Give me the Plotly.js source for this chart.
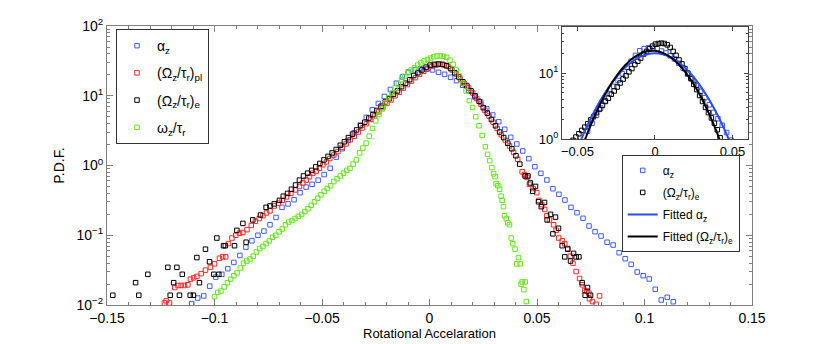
<!DOCTYPE html>
<html>
<head>
<meta charset="utf-8">
<script src="https://cdn.plot.ly/plotly-3.0.1.min.js"></script>
<style>
  html, body { margin: 0; padding: 0; background: #fff; }
  #plot { width: 830px; height: 344px; }
</style>
</head>
<body>
<div id="plot"></div>
<script>
// values; PDF values are kept as log10 (decades) and converted below

// alpha_z (blue)
var alphaX = [-0.1106,-0.1078,-0.105,-0.1022,-0.0994,-0.0966,-0.0938,-0.091,-0.0882,-0.0854,
  -0.0826,-0.0798,-0.077,-0.0742,-0.0714,-0.0686,-0.0658,-0.063,-0.0602,-0.0574,
  -0.0546,-0.0518,-0.049,-0.0462,-0.0434,-0.0406,-0.0378,-0.035,-0.0322,-0.0294,
  -0.0266,-0.0238,-0.021,-0.0182,-0.0154,-0.0126,-0.0098,-0.007,-0.0042,-0.0014,
  0.0014,0.0042,0.007,0.0098,0.0126,0.0154,0.0182,0.021,0.0238,0.0266,
  0.0294,0.0322,0.035,0.0378,0.0406,0.0434,0.0462,0.049,0.0518,0.0546,
  0.0574,0.0602,0.063,0.0658,0.0686,0.0714,0.0742,0.077,0.0798,0.0826,
  0.0854,0.0882,0.091,0.0938,0.0966,0.0994,0.1022,0.105,0.1078,0.1106,0.1134];
var alphaLog = [-1.98,-1.90,-1.87,-1.73,-1.60,-1.56,-1.48,-1.39,-1.29,-1.17,
  -1.08,-1.00,-0.94,-0.85,-0.745,-0.60,-0.55,-0.49,-0.39,-0.31,
  -0.27,-0.21,-0.13,-0.04,0.12,0.24,0.36,0.47,0.58,0.69,
  0.80,0.89,0.99,1.09,1.18,1.27,1.34,1.37,1.385,1.38,
  1.37,1.336,1.307,1.264,1.216,1.15,1.073,0.982,0.91,0.814,
  0.724,0.628,0.519,0.404,0.308,0.208,0.098,-0.017,-0.112,-0.208,
  -0.333,-0.413,-0.495,-0.6,-0.676,-0.757,-0.867,-0.949,-1.011,-1.10,
  -1.14,-1.25,-1.336,-1.417,-1.527,-1.58,-1.627,-1.775,-1.928,-1.89,-1.953];

// (Omega_z/tau_r)_pl (red)
var plX = [-0.1233,-0.1225,-0.1209,-0.1185,-0.117,-0.1155,-0.114,-0.1124,-0.1112,-0.1097,
  -0.1082,-0.1062,-0.1042,-0.1019,-0.1,-0.0977,-0.0962,-0.0948,-0.0935,-0.0919,
  -0.0901,-0.0884,-0.0868,-0.0849,-0.0829,-0.081,-0.0792,-0.0775,-0.0758,-0.0742,
  -0.0722,-0.0703,-0.0685,-0.0665,-0.0645,-0.0625,-0.0605,-0.0589,-0.0573,-0.0558,
  -0.0543,-0.0527,-0.0512,-0.0496,-0.048,-0.0464,-0.0445,-0.0426,-0.0407,-0.0388,
  -0.0369,-0.035,-0.0331,-0.0312,-0.0293,-0.0274,-0.0255,-0.0236,-0.0217,-0.0198,
  -0.0179,-0.016,-0.0141,-0.0122,-0.0103,-0.0084,-0.0065,-0.0046,-0.0027,-0.0008,
  0.0011,0.003,0.0049,0.0068,0.0087,0.0106,0.0125,0.0144,0.0163,0.0182,
  0.0201,0.022,0.0239,0.0258,0.0277,0.0296,0.0315,0.0334,0.0353,0.0372,
  0.0391,0.041,0.0431,0.0442,0.0453,0.0465,0.0482,0.0499,0.0509,0.0522,
  0.0536,0.0546,0.0558,0.0577,0.0589,0.0601,0.0617,0.0629,0.0643,0.0655,
  0.0667,0.0682,0.0698,0.071,0.0722,0.0732,0.0741,0.0744,0.0758,0.0775,0.0791];
var plLog = [-1.97,-1.94,-1.97,-1.75,-1.72,-1.72,-1.72,-1.71,-1.63,-1.61,
  -1.59,-1.55,-1.50,-1.46,-1.41,-1.33,-1.31,-1.31,-1.12,-1.04,
  -1.00,-0.97,-0.96,-0.92,-0.86,-0.80,-0.76,-0.72,-0.68,-0.65,
  -0.58,-0.54,-0.50,-0.45,-0.40,-0.35,-0.30,-0.25,-0.21,-0.16,
  -0.11,-0.08,-0.04,0.01,0.05,0.10,0.15,0.20,0.26,0.31,
  0.37,0.42,0.48,0.54,0.60,0.66,0.71,0.77,0.83,0.89,
  0.94,1.00,1.05,1.11,1.16,1.21,1.26,1.31,1.35,1.39,
  1.42,1.44,1.45,1.44,1.42,1.37,1.31,1.24,1.17,1.11,
  1.04,0.96,0.88,0.79,0.71,0.62,0.53,0.44,0.36,0.28,
  0.19,0.09,-0.09,-0.13,-0.17,-0.27,-0.33,-0.39,-0.50,-0.56,
  -0.63,-0.72,-0.78,-0.85,-0.93,-1.04,-1.08,-1.12,-1.19,-1.30,
  -1.40,-1.52,-1.62,-1.71,-1.79,-1.80,-1.83,-1.91,-1.95,-1.99,-1.87];

// (Omega_z/tau_r)_e (black)
var eX = [-0.1473,-0.1367,-0.1352,-0.131,-0.1217,-0.1206,-0.119,-0.1175,-0.1163,-0.115,
  -0.1113,-0.1098,-0.1082,-0.107,-0.1042,-0.1023,-0.1003,-0.0989,-0.098,-0.0958,
  -0.095,-0.0907,-0.0896,-0.0868,-0.0853,-0.0822,-0.0786,-0.076,-0.0742,-0.0722,
  -0.0698,-0.068,-0.066,-0.0642,-0.0623,-0.0605,-0.0586,-0.0567,-0.0548,-0.0529,
  -0.051,-0.0491,-0.0472,-0.0453,-0.0434,-0.0415,-0.0396,-0.0377,-0.0358,-0.0339,
  -0.032,-0.0301,-0.0282,-0.0263,-0.0244,-0.0225,-0.0206,-0.0187,-0.0168,-0.0149,
  -0.013,-0.0111,-0.0092,-0.0073,-0.0054,-0.0035,-0.0016,0.0003,0.0022,0.0041,
  0.006,0.0079,0.0098,0.0117,0.0136,0.0155,0.0174,0.0193,0.0212,0.0231,
  0.025,0.0269,0.0288,0.0307,0.0326,0.0345,0.0364,0.0383,0.0402,0.042,
  0.0445,0.0458,0.0469,0.048,0.0493,0.0507,0.052,0.0535,0.0547,0.0563,
  0.0574,0.0586,0.06,0.0617,0.0629,0.0643,0.0656,0.067,0.0682,0.0695,
  0.071,0.0724,0.0735,0.0749];
var eLog = [-1.86,-1.68,-1.86,-1.56,-1.46,-1.86,-1.68,-1.46,-1.86,-1.56,
  -1.86,-1.86,-1.32,-1.68,-1.20,-1.38,-1.56,-1.04,-1.56,-1.15,
  -1.15,-1.15,-0.93,-0.83,-1.10,-0.78,-0.71,-0.60,-0.58,-0.55,
  -0.50,-0.44,-0.40,-0.34,-0.28,-0.21,-0.15,-0.11,-0.07,-0.02,
  0.03,0.08,0.13,0.18,0.23,0.29,0.34,0.40,0.45,0.51,
  0.57,0.62,0.68,0.73,0.79,0.85,0.91,0.96,1.02,1.07,
  1.13,1.18,1.23,1.29,1.33,1.37,1.41,1.44,1.45,1.455,
  1.45,1.43,1.39,1.33,1.27,1.20,1.14,1.07,1.00,0.92,
  0.83,0.75,0.66,0.57,0.48,0.40,0.32,0.24,0.14,0.02,
  -0.15,-0.15,-0.25,-0.37,-0.30,-0.52,-0.59,-0.53,-0.78,-0.70,
  -0.98,-0.74,-0.90,-1.15,-1.31,-1.20,-1.37,-1.26,-1.31,-1.31,
  -1.68,-1.86,-1.75,-1.86];

// omega_z/tau_r (green)
var omX = [-0.1,-0.0985,-0.097,-0.0955,-0.094,-0.0925,-0.091,-0.0895,-0.088,-0.0865,
  -0.085,-0.0835,-0.082,-0.0805,-0.079,-0.0775,-0.076,-0.0745,-0.073,-0.0715,
  -0.07,-0.0685,-0.067,-0.0655,-0.064,-0.0625,-0.061,-0.0595,-0.058,-0.0565,
  -0.055,-0.0535,-0.052,-0.0505,-0.049,-0.0475,-0.046,-0.0445,-0.043,-0.0415,
  -0.04,-0.0385,-0.037,-0.0355,-0.034,-0.0325,-0.031,-0.0295,-0.028,-0.0265,
  -0.025,-0.0235,-0.022,-0.0205,-0.019,-0.0175,-0.016,-0.0145,-0.013,-0.0115,
  -0.01,-0.0085,-0.007,-0.0055,-0.004,-0.0025,-0.001,0.0005,0.002,0.0035,
  0.005,0.0065,0.008,0.0095,0.011,0.0125,0.014,0.0155,0.017,0.0185,
  0.02,0.0215,0.023,0.0245,0.026,0.027,0.028,0.029,0.0298,0.0305,
  0.031,0.0318,0.0326,0.0333,0.0338,0.0344,0.0349,0.0357,0.0364,0.0372,
  0.038,0.0387,0.0398,0.0406,0.0414,0.0422,0.0426,0.0431,0.0439,0.0445,0.045];
var omLog = [-1.88,-1.82,-1.80,-1.74,-1.68,-1.63,-1.58,-1.54,-1.47,-1.40,
  -1.37,-1.34,-1.30,-1.24,-1.19,-1.16,-1.12,-1.08,-1.03,-1.00,
  -0.95,-0.91,-0.85,-0.81,-0.79,-0.76,-0.73,-0.70,-0.66,-0.62,
  -0.57,-0.52,-0.47,-0.42,-0.37,-0.33,-0.29,-0.23,-0.19,-0.15,
  -0.11,-0.07,-0.04,0.02,0.08,0.18,0.25,0.32,0.42,0.53,
  0.64,0.73,0.81,0.90,0.97,1.04,1.11,1.17,1.23,1.28,
  1.33,1.37,1.40,1.44,1.47,1.50,1.52,1.54,1.56,1.57,
  1.57,1.565,1.55,1.51,1.45,1.37,1.28,1.18,1.07,0.93,
  0.83,0.70,0.57,0.43,0.27,0.16,0.07,-0.03,-0.12,-0.16,
  -0.26,-0.29,-0.34,-0.44,-0.50,-0.59,-0.72,-0.76,-0.82,-0.85,
  -1.04,-1.12,-1.20,-1.41,-1.32,-1.41,-1.70,-1.67,-1.78,-1.67,-1.95];

// fitted curves shown in the inset (linear PDF values)
var fitX = [-0.05,-0.045,-0.04,-0.035,-0.03,-0.025,-0.02,-0.015,-0.01,-0.005,0,
  0.005,0.01,0.015,0.02,0.025,0.03,0.035,0.04,0.045,0.05];
var fitAlpha = [0.72,1.36,2.39,3.93,6.04,8.71,11.7,14.8,17.5,19.3,20.0,
  19.3,17.5,14.8,11.7,8.71,6.04,3.93,2.39,1.36,0.72];
var fitE = [0.47,1.0,1.96,3.53,5.86,8.95,12.6,16.4,19.5,21.5,21.8,
  20.3,17.5,13.8,10.1,6.78,4.19,2.38,1.25,0.60,0.35];

// tick labels
var xTickVals = [-0.15,-0.1,-0.05,0,0.05,0.1,0.15];
var xTickText = ['\u22120.15','\u22120.1','\u22120.05','0','0.05','0.1','0.15'];
var yTickVals = [0.01,0.1,1,10,100];
var yTickText = ['10<sup>\u22122</sup>','10<sup>\u22121</sup>','10<sup>0</sup>','10<sup>1</sup>','10<sup>2</sup>'];
var insetXTickVals = [-0.05,0,0.05];
var insetXTickText = ['\u22120.05','0','0.05'];
var insetYTickVals = [1,10];
var insetYTickText = ['10<sup>0</sup>','10<sup>1</sup>'];

function toPdf(arr) {
    return arr.map(function (v) { return Math.pow(10, v); });
}

var blue = '#3f5cf5';
var red = '#f52a2a';
var green = '#66e61a';
var axisGray = '#808080';

function squares(x, logv, name, color, legendName, xa, ya) {
    return {
        x: x,
        y: toPdf(logv),
        name: name,
        type: 'scatter',
        mode: 'markers',
        marker: {symbol: 'square-open', size: 4.5, color: color, line: {width: 1, color: color}},
        legend: legendName,
        legendgroup: legendName + name,
        xaxis: xa,
        yaxis: ya
    };
}

var data = [
    squares(alphaX, alphaLog, '\u03b1<sub>z</sub>', blue, 'legend', 'x', 'y'),
    squares(plX, plLog, '(\u03a9<sub>z</sub>/\u03c4<sub>r</sub>)<sub>pl</sub>', red, 'legend', 'x', 'y'),
    squares(eX, eLog, '(\u03a9<sub>z</sub>/\u03c4<sub>r</sub>)<sub>e</sub>', '#000', 'legend', 'x', 'y'),
    squares(omX, omLog, '\u03c9<sub>z</sub>/\u03c4<sub>r</sub>', green, 'legend', 'x', 'y'),
    // inset
    squares(alphaX, alphaLog, '\u03b1<sub>z</sub>', blue, 'legend2', 'x2', 'y2'),
    squares(eX, eLog, '(\u03a9<sub>z</sub>/\u03c4<sub>r</sub>)<sub>e</sub>', '#000', 'legend2', 'x2', 'y2'),
    {
        x: fitX, y: fitAlpha, name: 'Fitted \u03b1<sub>z</sub>',
        type: 'scatter', mode: 'lines', line: {color: '#2a4cf0', width: 2, shape: 'spline'},
        legend: 'legend2', legendgroup: 'fa', xaxis: 'x2', yaxis: 'y2'
    },
    {
        x: fitX, y: fitE, name: 'Fitted (\u03a9<sub>z</sub>/\u03c4<sub>r</sub>)<sub>e</sub>',
        type: 'scatter', mode: 'lines', line: {color: '#000', width: 2, shape: 'spline'},
        legend: 'legend2', legendgroup: 'fe', xaxis: 'x2', yaxis: 'y2'
    }
];

var layout = {
    width: 830,
    height: 344,
    margin: {t: 26, l: 107, r: 78, b: 39},
    paper_bgcolor: '#fff',
    plot_bgcolor: '#fff',
    font: {family: 'Liberation Sans, Arial, sans-serif', size: 14, color: '#000'},
    xaxis: {
        range: [-0.15, 0.15],
        tickmode: 'array', tickvals: xTickVals, ticktext: xTickText,
        ticks: 'inside', ticklen: 6, tickcolor: axisGray,
        minor: {tickmode: 'linear', tick0: 0, dtick: 0.01, ticks: 'inside', ticklen: 3, tickcolor: axisGray},
        showline: true, linecolor: axisGray, mirror: 'allticks',
        showgrid: false, zeroline: false, automargin: false,
        title: {text: 'Rotational Accelaration', standoff: 0, font: {size: 13}}
    },
    yaxis: {
        type: 'log', range: [-2, 2],
        tickmode: 'array', tickvals: yTickVals, ticktext: yTickText,
        ticks: 'inside', ticklen: 6, tickcolor: axisGray,
        minor: {dtick: 'D1', ticks: 'inside', ticklen: 3, tickcolor: axisGray},
        showline: true, linecolor: axisGray, mirror: 'allticks',
        showgrid: false, zeroline: false, automargin: false,
        title: {text: 'P.D.F.', standoff: 8, font: {size: 14}}
    },
    xaxis2: {
        domain: [0.7054, 0.9938], anchor: 'y2',
        range: [-0.06, 0.06],
        tickmode: 'array', tickvals: insetXTickVals, ticktext: insetXTickText,
        ticks: 'inside', ticklen: 4, tickcolor: '#444',
        showline: true, linecolor: '#444', mirror: 'allticks',
        showgrid: false, zeroline: false, tickfont: {size: 13}
    },
    yaxis2: {
        domain: [0.595, 0.996], anchor: 'x2',
        type: 'log', range: [0, 1.699],
        tickmode: 'array', tickvals: insetYTickVals, ticktext: insetYTickText,
        ticks: 'inside', ticklen: 4, tickcolor: '#444',
        minor: {dtick: 'D1', ticks: 'inside', ticklen: 2, tickcolor: '#444'},
        showline: true, linecolor: '#444', mirror: 'allticks',
        showgrid: false, zeroline: false, tickfont: {size: 13}
    },
    legend: {
        x: 0.014, y: 0.989, xanchor: 'left', yanchor: 'top',
        bgcolor: '#fff', bordercolor: '#333', borderwidth: 1,
        font: {size: 14}, tracegroupgap: 6
    },
    legend2: {
        x: 0.798, y: 0.538, xanchor: 'left', yanchor: 'top',
        bgcolor: '#fff', bordercolor: '#333', borderwidth: 1,
        font: {size: 12}, tracegroupgap: 3
    }
};

Plotly.newPlot('plot', data, layout, {displayModeBar: false, staticPlot: true});
</script>
</body>
</html>
